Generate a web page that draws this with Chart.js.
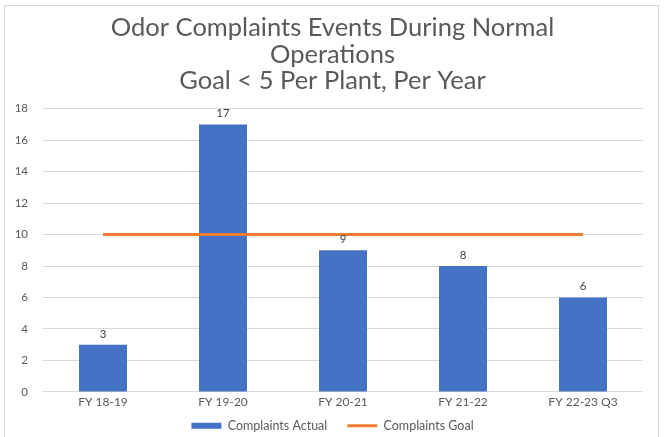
<!DOCTYPE html>
<html>
<head>
<meta charset="utf-8">
<script src="https://cdn.jsdelivr.net/npm/chart.js@4.4.0/dist/chart.umd.min.js"></script>
<style>
  html, body { margin: 0; padding: 0; background: #fff; }
  #wrap { position: relative; width: 665px; height: 437px; overflow: hidden; }
  #frame { position: absolute; left: 4px; top: 5px; width: 655px; height: 445px; border: 1px solid #d9d9d9; box-sizing: border-box; }
  #chartBox { position: absolute; left: 0; top: 0; width: 665px; height: 437px; }
</style>
</head>
<body>
<div id="wrap">
  <div id="frame"></div>
  <div id="chartBox"><canvas id="odorChart" width="665" height="437"></canvas></div>
</div>
<script>
// チャートのデータ
const categories = ['FY 18-19', 'FY 19-20', 'FY 20-21', 'FY 21-22', 'FY 22-23 Q3'];
const complaintsActual = [3, 17, 9, 8, 6];
const complaintsGoal = [10, 10, 10, 10, 10];
const titleLines = ['Odor Complaints Events During Normal', 'Operations', 'Goal < 5 Per Plant, Per Year'];
const yTicksMax = 18;

const FONT = 'Lato, "Open Sans", sans-serif';

// 棒の上に値を表示するプラグイン
const barValueLabels = {
    id: 'barValueLabels',
    afterDatasetsDraw(chart) {
        const ctx = chart.ctx;
        const meta = chart.getDatasetMeta(0);
        ctx.save();
        ctx.font = '11.5px ' + FONT;
        ctx.fillStyle = '#404040';
        ctx.textAlign = 'center';
        ctx.textBaseline = 'bottom';
        meta.data.forEach((bar, i) => {
            ctx.fillText(String(complaintsActual[i]), bar.x, bar.y - 5);
        });
        ctx.restore();
    }
};

const canvas = document.getElementById('odorChart');
const chart = new Chart(canvas.getContext('2d'), {
    type: 'bar',
    data: {
        labels: categories,
        datasets: [
            {
                type: 'bar',
                label: 'Complaints Actual',
                data: complaintsActual,
                backgroundColor: '#4472C4',
                borderWidth: 0,
                categoryPercentage: 1.0,
                barPercentage: 0.4,
                pointStyle: 'rect',
                order: 2
            },
            {
                type: 'line',
                label: 'Complaints Goal',
                data: complaintsGoal,
                borderColor: '#ED7D31',
                backgroundColor: '#ED7D31',
                borderWidth: 3,
                pointRadius: 0,
                pointStyle: 'line',
                fill: false,
                order: 1
            }
        ]
    },
    options: {
        responsive: false,
        animation: false,
        layout: { padding: { left: 8, right: 8, top: 0, bottom: -5 } },
        plugins: {
            title: {
                display: true,
                text: titleLines,
                color: '#595959',
                font: { family: FONT, size: 25.5, weight: 'normal', lineHeight: 1.03 },
                padding: { top: 15, bottom: 15 }
            },
            legend: {
                position: 'bottom',
                labels: {
                    usePointStyle: true,
                    pointStyleWidth: 30,
                    boxHeight: 6,
                    color: '#595959',
                    font: { family: FONT, size: 12.5 },
                    padding: 20,
                    // 凡例は棒→線の順
                    sort: (a, b) => a.datasetIndex - b.datasetIndex
                }
            },
            tooltip: { enabled: false }
        },
        scales: {
            x: {
                // 凡例との間隔を詰めるため高さを固定し、ラベルはmirrorで切り取りを避ける
                afterFit(scale) { scale.height = 7.6; },
                grid: { display: false, drawTicks: false },
                border: { display: false },
                ticks: { color: '#595959', font: { family: FONT, size: 12 }, mirror: true, padding: -17, maxRotation: 0 }
            },
            y: {
                min: 0,
                max: yTicksMax,
                afterFit(scale) { scale.width = 35; },
                grid: { color: '#d9d9d9', drawTicks: false, lineWidth: 1 },
                border: { display: false },
                ticks: { stepSize: 2, color: '#595959', font: { family: FONT, size: 11.5 }, padding: 15 }
            },
            // 右側の余白用（表示なし）
            yRight: {
                position: 'right',
                afterFit(scale) { scale.width = 14; },
                grid: { display: false, drawTicks: false },
                border: { display: false },
                ticks: { display: false }
            }
        }
    },
    plugins: [barValueLabels]
});
</script>
</body>
</html>
